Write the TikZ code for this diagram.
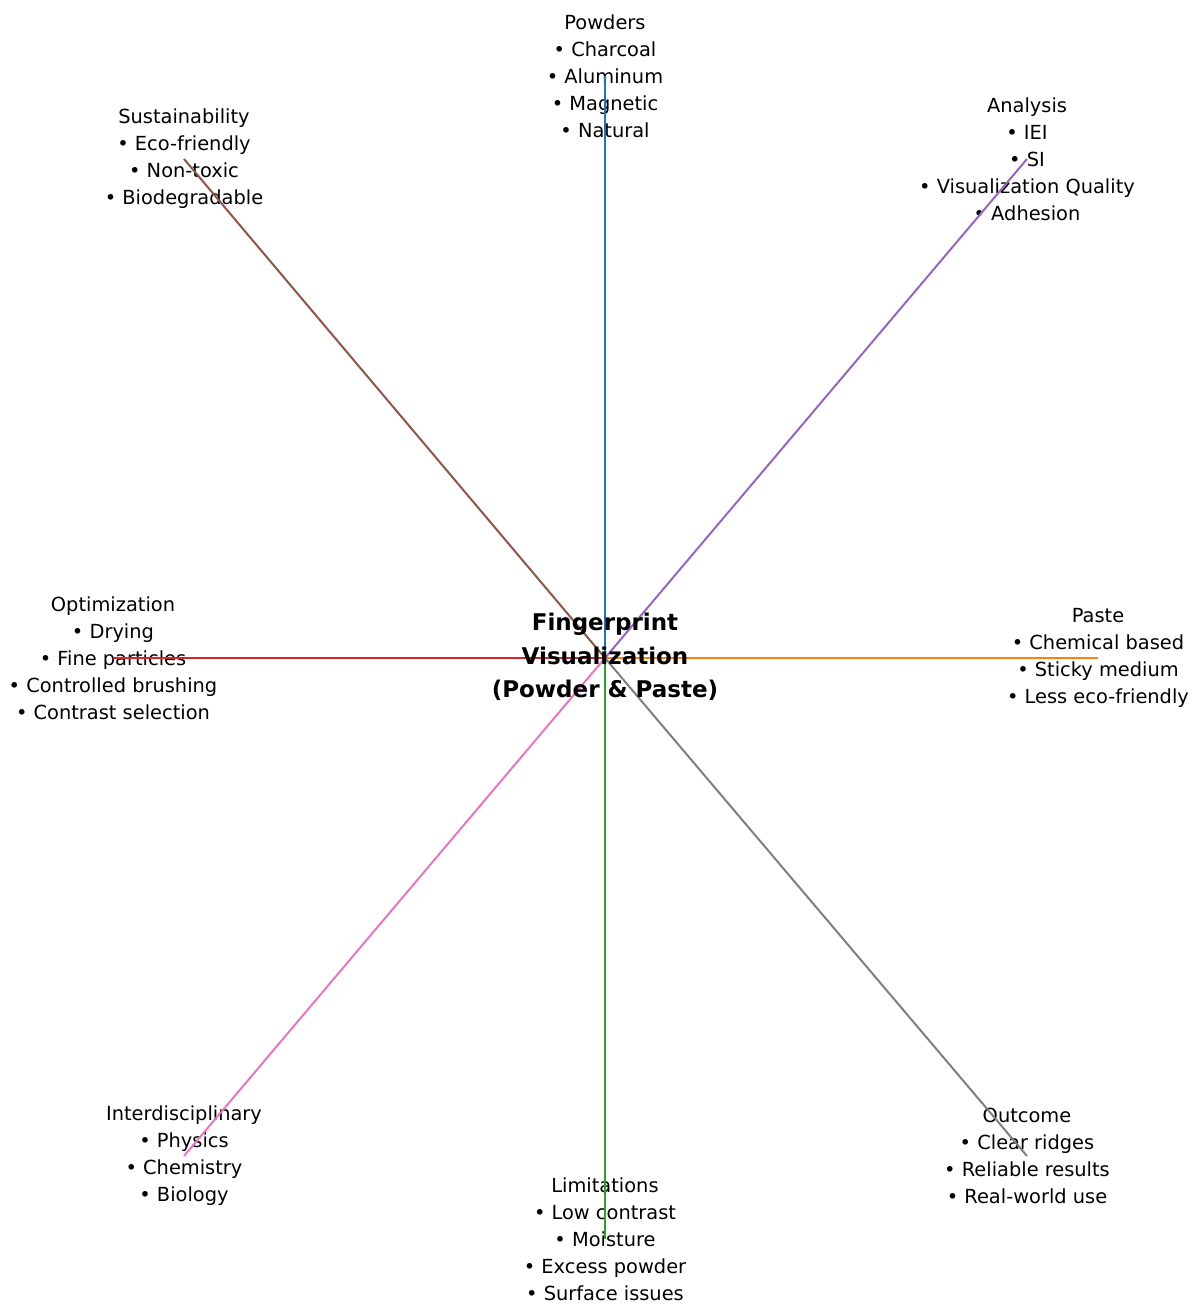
\documentclass[tikz,border=0pt]{standalone}
\usepackage{fontspec}
\setmainfont{DejaVu Sans}
\definecolor{tblue}{HTML}{1F77B4}
\definecolor{torange}{HTML}{FF7F0E}
\definecolor{tgreen}{HTML}{2CA02C}
\definecolor{tred}{HTML}{D62728}
\definecolor{tpurple}{HTML}{9467BD}
\definecolor{tbrown}{HTML}{8C564B}
\definecolor{tpink}{HTML}{E377C2}
\definecolor{tgray}{HTML}{7F7F7F}
\begin{document}
\begin{tikzpicture}[x=0.5pt,y=-0.5pt,
  lbl/.style={align=center,inner sep=0pt,font=\fontsize{9.7}{13.5}\selectfont},
  ctr/.style={align=center,inner sep=0pt,font=\fontsize{11.5}{16.75}\selectfont\bfseries},
  spoke/.style={line width=1pt}]
\useasboundingbox[fill=white] (0,0) rectangle (1191,1304);
\coordinate (c) at (605,658);
\node[lbl] (pw) at (605,76) {Powders\\• Charcoal\\• Aluminum\\• Magnetic\\• Natural};
\node[lbl] (an) at (1027,159) {Analysis\\• IEI\\• SI\\• Visualization Quality\\• Adhesion};
\node[lbl] (pa) at (1098,658) {Paste\\• Chemical based\\• Sticky medium\\• Less eco-friendly};
\node[lbl] (ou) at (1027,1156) {Outcome\\• Clear ridges\\• Reliable results\\• Real-world use};
\node[lbl] (li) at (605,1239) {Limitations\\• Low contrast\\• Moisture\\• Excess powder\\• Surface issues};
\node[lbl] (in) at (184,1156) {Interdisciplinary\\• Physics\\• Chemistry\\• Biology};
\node[lbl] (op) at (113,658) {Optimization\\• Drying\\• Fine particles\\• Controlled brushing\\• Contrast selection};
\node[lbl] (su) at (184,159) {Sustainability\\• Eco-friendly\\• Non-toxic\\• Biodegradable};
\draw[spoke,tblue] (c) -- (pw.center);
\draw[spoke,torange] (c) -- (pa.center);
\draw[spoke,tgreen] (c) -- (li.center);
\draw[spoke,tred] (c) -- (op.center);
\draw[spoke,tpurple] (c) -- (an.center);
\draw[spoke,tbrown] (c) -- (su.center);
\draw[spoke,tpink] (c) -- (in.center);
\draw[spoke,tgray] (c) -- (ou.center);
\node[ctr] (center) at (605,657) {Fingerprint\\Visualization\\(Powder \& Paste)};
\end{tikzpicture}
\end{document}
